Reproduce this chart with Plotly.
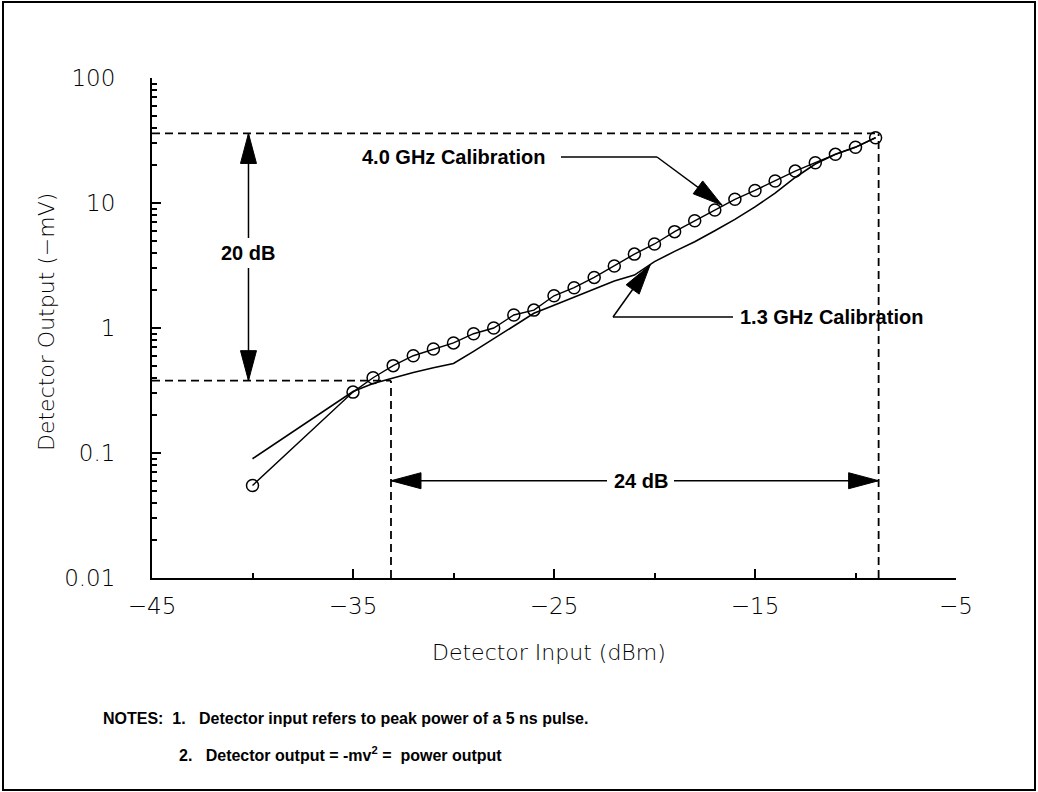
import math
import plotly.graph_objects as go

# ---------------- data ----------------
input_dbm = [-40, -35, -34, -33, -32, -31, -30, -29, -28, -27, -26, -25, -24, -23,
             -22, -21, -20, -19, -18, -17, -16, -15, -14, -13, -12, -11, -10, -9]
cal_4ghz = [0.055, 0.307, 0.40, 0.50, 0.60, 0.68, 0.76, 0.90, 1.00, 1.27, 1.39, 1.81, 2.10, 2.54,
            3.13, 3.90, 4.70, 5.90, 7.20, 8.80, 10.7, 12.6, 15.0, 18.0, 21.0, 24.5, 27.9, 33.3]
cal_13ghz = [0.090, 0.31, 0.36, 0.40, 0.44, 0.48, 0.52, 0.65, 0.82, 1.04, 1.31, 1.52, 1.77, 2.05,
             2.38, 2.65, 3.40, 4.10, 4.90, 6.00, 7.40, 9.30, 12.0, 16.0, 20.5, 24.5, 28.0, 33.3]

x_tick_vals = [-45, -35, -25, -15, -5]
x_tick_text = ["\u221245", "\u221235", "\u221225", "\u221215", "\u22125"]
x_minor_vals = [-40, -30, -20, -10]
y_tick_vals = [0.01, 0.1, 1, 10, 100]
y_tick_text = ["0.01", "0.1", "1", "10", "100"]
y_minor_vals = [k * 10 ** d for d in (-2, -1, 0, 1) for k in range(2, 10)]

# reference levels (dashed construction lines)
level_top = 36.0      # -mV
level_low = 0.379     # -mV
input_low = -33.11    # dBm
input_high = -8.85    # dBm
arrow_20db_x = -40.2
arrow_24db_y = 0.06

# ---------------- geometry helpers (plot area in pixels) ----------------
W, H = 1038, 792
ML, MR, MT, MB = 152, 82, 78, 214
PW, PH = W - ML - MR, H - MT - MB
XR = (-45, -5)
YR = (-2, 2)


def xpx(x):
    return ML + (x - XR[0]) / (XR[1] - XR[0]) * PW


def ypx(y):
    return MT + (YR[1] - math.log10(y)) / (YR[1] - YR[0]) * PH


def xdata(px):
    return XR[0] + (px - ML) / PW * (XR[1] - XR[0])


def ydata(py):
    return 10 ** (YR[1] - (py - MT) / PH * (YR[1] - YR[0]))


def xpaper(px):
    return (px - ML) / PW


def ypaper(py):
    return (MT + PH - py) / PH


fig = go.Figure()
fig.add_trace(go.Scatter(x=input_dbm, y=cal_13ghz, mode="lines",
                         line=dict(color="black", width=1.6), showlegend=False))
fig.add_trace(go.Scatter(x=input_dbm, y=cal_4ghz, mode="lines+markers",
                         line=dict(color="black", width=1.4),
                         marker=dict(symbol="circle-open", size=12, color="black",
                                     line=dict(width=1.5)),
                         showlegend=False))

shapes = []
dash = dict(color="black", width=1.8, dash="8px,5px")
# dashed construction lines
shapes.append(dict(type="line", xref="x", yref="y", x0=-45, x1=input_high, y0=level_top, y1=level_top, line=dash))
shapes.append(dict(type="line", xref="x", yref="y", x0=-45, x1=input_low, y0=level_low, y1=level_low, line=dash))
shapes.append(dict(type="line", xref="x", yref="y", x0=input_low, x1=input_low, y0=0.01, y1=level_low, line=dash))
shapes.append(dict(type="line", xref="x", yref="y", x0=input_high, x1=input_high, y0=0.01, y1=level_top, line=dash))

solid = dict(color="black", width=1.5)


def seg(x0, y0, x1, y1):
    shapes.append(dict(type="line", xref="x", yref="y", x0=x0, x1=x1, y0=y0, y1=y1, line=solid))


def head(tx, ty, fx, fy, length=30, half=8):
    # arrowhead at data point (tx,ty) pointing away from (fx,fy); built in pixels
    dx = xpx(tx) - xpx(fx)
    dy = -(ypx(ty) - ypx(fy))  # y up
    n = math.hypot(dx, dy)
    ux, uy = dx / n, dy / n
    bx, by = -ux * length, -uy * length
    px_, py_ = -uy * half, ux * half
    path = "M0,0 L{:.2f},{:.2f} L{:.2f},{:.2f} Z".format(bx + px_, by + py_, bx - px_, by - py_)
    shapes.append(dict(type="path", xref="x", yref="y", xsizemode="pixel", ysizemode="pixel",
                       xanchor=tx, yanchor=ty, path=path,
                       fillcolor="black", line=dict(color="black", width=1)))


# 20 dB vertical arrow
g_top = ydata(238)
g_bot = ydata(268)
seg(arrow_20db_x, level_top, arrow_20db_x, g_top)
seg(arrow_20db_x, g_bot, arrow_20db_x, level_low)
head(arrow_20db_x, level_top, arrow_20db_x, 1.0)
head(arrow_20db_x, level_low, arrow_20db_x, 1.0)

# 24 dB horizontal arrow
seg(input_low, arrow_24db_y, xdata(607), arrow_24db_y)
seg(xdata(674), arrow_24db_y, input_high, arrow_24db_y)
head(input_low, arrow_24db_y, -20, arrow_24db_y)
head(input_high, arrow_24db_y, -20, arrow_24db_y)

# 4.0 GHz leader
l4_y = ydata(157)
l4_x0, l4_x1 = xdata(561), xdata(657)
tip4 = (-16.64, 9.6)
seg(l4_x0, l4_y, l4_x1, l4_y)
seg(l4_x1, l4_y, tip4[0], tip4[1])
head(tip4[0], tip4[1], l4_x1, l4_y)

# 1.3 GHz leader
l13_y = ydata(317)
l13_x0, l13_x1 = xdata(613), xdata(733)
tip13 = (-20.22, 3.19)
seg(l13_x0, l13_y, l13_x1, l13_y)
seg(l13_x0, l13_y, tip13[0], tip13[1])
head(tip13[0], tip13[1], l13_x0, l13_y)

# outer frame
shapes.append(dict(type="rect", xref="paper", yref="paper",
                   x0=xpaper(3), x1=xpaper(1035), y0=ypaper(790), y1=ypaper(2),
                   line=dict(color="black", width=2)))

bold = dict(family="Liberation Sans, Arial, sans-serif", size=20, color="black", weight="bold")
light = dict(family="'DejaVu Sans', sans-serif", size=23, color="black", weight=200)

ann = []
ann.append(dict(x=arrow_20db_x, y=math.log10(ydata(253)), xref="x", yref="y", text="20 dB",
                showarrow=False, font=bold, bgcolor="white"))
ann.append(dict(x=xdata(641), y=math.log10(arrow_24db_y), xref="x", yref="y", text="24 dB",
                showarrow=False, font=bold))
ann.append(dict(x=xdata(547), y=math.log10(l4_y), xref="x", yref="y", text="4.0 GHz Calibration",
                showarrow=False, font=bold, xanchor="right"))
ann.append(dict(x=xdata(738), y=math.log10(l13_y), xref="x", yref="y", text="1.3 GHz Calibration",
                showarrow=False, font=bold, xanchor="left"))
# axis titles
ann.append(dict(x=xpaper(549), y=ypaper(652), xref="paper", yref="paper",
                xanchor="center", yanchor="middle",
                text="Detector Input (dBm)", showarrow=False, font=dict(light, size=22)))
ann.append(dict(x=xpaper(46), y=ypaper(322), xref="paper", yref="paper",
                xanchor="center", yanchor="middle",
                text="Detector Output (\u2212mV)", showarrow=False, textangle=-90,
                font=dict(light, size=22)))
# notes
notes_font = dict(family="Liberation Sans, Arial, sans-serif", size=16, color="black", weight="bold")
ann.append(dict(x=xpaper(101), y=ypaper(718), xref="paper", yref="paper",
                xanchor="left", yanchor="middle", showarrow=False, font=notes_font,
                text="NOTES:  1.   Detector input refers to peak power of a 5 ns pulse."))
ann.append(dict(x=xpaper(177), y=ypaper(754), xref="paper", yref="paper",
                xanchor="left", yanchor="middle", showarrow=False, font=notes_font,
                text="2.   Detector output = -mv<sup>2</sup> =  power output"))

fig.update_layout(
    width=W, height=H,
    margin=dict(l=ML, r=MR, t=MT, b=MB),
    paper_bgcolor="white", plot_bgcolor="white",
    shapes=shapes, annotations=ann,
    xaxis=dict(range=list(XR), showgrid=False, zeroline=False, showline=True,
               linecolor="black", linewidth=2, ticks="inside", ticklen=9, tickwidth=1.5,
               tickcolor="black", tickmode="array", tickvals=x_tick_vals, ticktext=x_tick_text,
               tickfont=light, ticklabelstandoff=6,
               minor=dict(tickmode="array", tickvals=x_minor_vals, ticks="inside", ticklen=5,
                          tickwidth=1.5, tickcolor="black", showgrid=False)),
    yaxis=dict(type="log", range=list(YR), showgrid=False, zeroline=False, showline=True,
               linecolor="black", linewidth=2, ticks="inside", ticklen=9, tickwidth=1.5,
               tickcolor="black", tickmode="array", tickvals=y_tick_vals, ticktext=y_tick_text,
               tickfont=light, ticklabelstandoff=30,
               minor=dict(tickmode="array", tickvals=y_minor_vals, ticks="inside", ticklen=5,
                          tickwidth=1.5, tickcolor="black", showgrid=False)),
)

fig.write_html("out.html")
